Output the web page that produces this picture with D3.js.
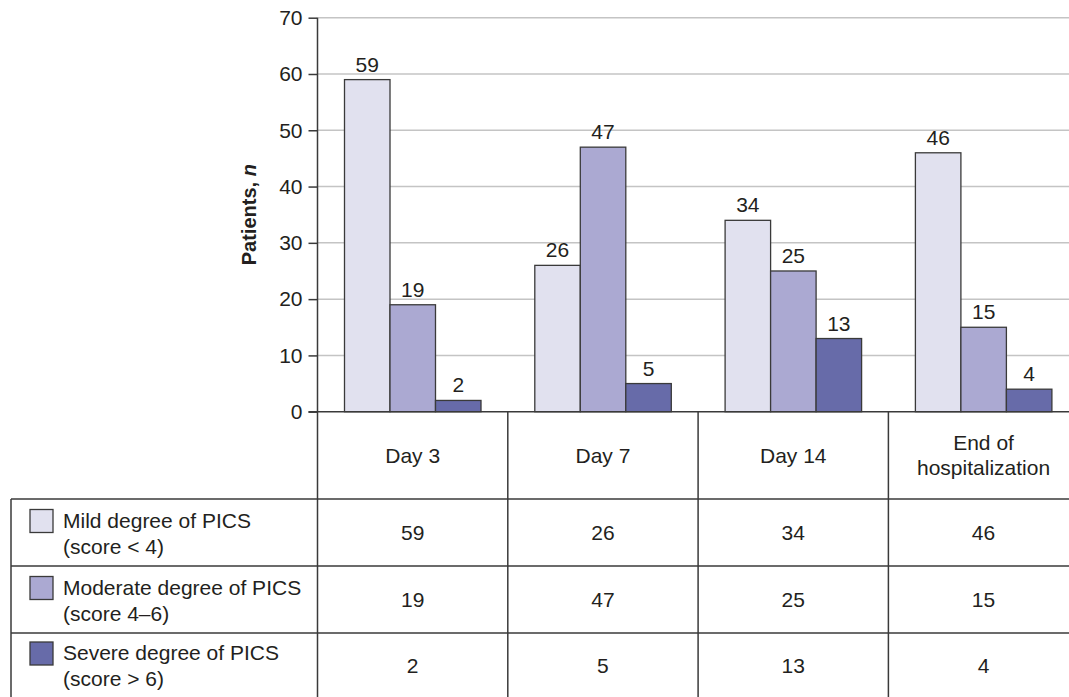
<!DOCTYPE html>
<html>
<head>
<meta charset="utf-8">
<script src="https://cdn.jsdelivr.net/npm/d3@7"></script>
<style>
  html, body { margin: 0; padding: 0; background: #fff; }
  svg { display: block; }
  text { font-family: "Liberation Sans", Arial, sans-serif; fill: #231f20; }
</style>
</head>
<body>
<svg id="chart" width="1069" height="697"></svg>
<script>
// ---- data ----
const categories = ["Day 3", "Day 7", "Day 14", "End of hospitalization"];
const categoryLines = [["Day 3"], ["Day 7"], ["Day 14"], ["End of", "hospitalization"]];
const seriesNames = ["Mild", "Moderate", "Severe"];
const seriesLabels = [
  ["Mild degree of PICS", "(score < 4)"],
  ["Moderate degree of PICS", "(score 4\u20136)"],
  ["Severe degree of PICS", "(score > 6)"]
];
const mild = [59, 26, 34, 46];
const moderate = [19, 47, 25, 15];
const severe = [2, 5, 13, 4];
const yTicks = [0, 10, 20, 30, 40, 50, 60, 70];
const colors = ["#e1e1ef", "#aba9d2", "#676ba9"];

const values = [mild, moderate, severe];

// ---- layout ----
const W = 1069, H = 697;
const axisX = 317.5;
const colStep = 190.3;
const yTop = 17.7, yBase = 411.7;
const rowTops = [499, 566, 633];
const tableLeft = 11;
const lineColor = "#3a3a3a";

const svg = d3.select("#chart");

const x0 = d3.scaleBand().domain(categories).range([axisX, axisX + colStep * 4]);
const x1 = d3.scaleBand().domain(seriesNames).range([27, 163.5]);
const y = d3.scaleLinear().domain([0, 70]).range([yBase, yTop]);

// gridlines
svg.append("g").selectAll("line").data(yTicks.filter(d => d > 0)).join("line")
  .attr("x1", axisX).attr("x2", W)
  .attr("y1", d => y(d)).attr("y2", d => y(d))
  .attr("stroke", "#c4c4c4").attr("stroke-width", 1.5);

// y axis ticks & labels
const yAxis = svg.append("g").attr("transform", `translate(${axisX},0)`)
  .call(d3.axisLeft(y).tickValues(yTicks).tickSize(9).tickPadding(6).tickSizeOuter(0));
yAxis.select(".domain").remove();
yAxis.selectAll(".tick line").attr("stroke", lineColor).attr("stroke-width", 1.5);
yAxis.selectAll(".tick text").attr("font-size", 21).attr("fill", "#231f20")
  .attr("font-family", "'Liberation Sans', Arial, sans-serif");

// y title
const title = svg.append("text")
  .attr("transform", `translate(256,${(yTop + yBase) / 2}) rotate(-90)`)
  .attr("text-anchor", "middle").attr("font-size", 20).attr("font-weight", "bold");
title.append("tspan").text("Patients, ");
title.append("tspan").attr("font-style", "italic").text("n");

// bars
const groups = svg.append("g").selectAll("g").data(categories).join("g")
  .attr("transform", d => `translate(${x0(d)},0)`);
groups.selectAll("rect").data((c, ci) => seriesNames.map((s, si) => ({ s, si, v: values[si][ci] })))
  .join("rect")
  .attr("x", d => x1(d.s)).attr("width", x1.bandwidth())
  .attr("y", d => y(d.v)).attr("height", d => yBase - y(d.v))
  .attr("fill", d => colors[d.si]).attr("stroke", "#3a3a3a").attr("stroke-width", 1.3);
groups.selectAll("text").data((c, ci) => seriesNames.map((s, si) => ({ s, si, v: values[si][ci] })))
  .join("text")
  .attr("x", d => x1(d.s) + x1.bandwidth() / 2).attr("y", d => y(d.v) - 8)
  .attr("text-anchor", "middle").attr("font-size", 21).text(d => d.v);

// table lines
const tl = svg.append("g").attr("stroke", lineColor).attr("stroke-width", 1.5);
// baseline
tl.append("line").attr("x1", axisX - 9).attr("x2", W).attr("y1", yBase).attr("y2", yBase);
// axis vertical
tl.append("line").attr("x1", axisX).attr("x2", axisX).attr("y1", yTop).attr("y2", H);
// row separators
rowTops.forEach(r => tl.append("line").attr("x1", tableLeft).attr("x2", W).attr("y1", r).attr("y2", r));
// left border
tl.append("line").attr("x1", tableLeft).attr("x2", tableLeft).attr("y1", rowTops[0]).attr("y2", H);
// column separators
categories.slice(1).forEach(c => tl.append("line").attr("x1", x0(c)).attr("x2", x0(c)).attr("y1", yBase).attr("y2", H));

// header cells
const hdr = svg.append("g");
categories.forEach((c, i) => {
  const lines = categoryLines[i];
  const cx = x0(c) + x0.bandwidth() / 2;
  const mid = (yBase + rowTops[0]) / 2;
  lines.forEach((ln, li) => {
    hdr.append("text").attr("x", cx)
      .attr("y", mid + 7.5 + (li - (lines.length - 1) / 2) * 25)
      .attr("text-anchor", "middle").attr("font-size", 21).text(ln);
  });
});

// legend rows
const rowH = [67, 67, 64];
seriesNames.forEach((s, si) => {
  const top = rowTops[si];
  const g = svg.append("g");
  const mid = top + rowH[si] / 2;
  g.append("rect").attr("x", 30).attr("y", mid - 23).attr("width", 23).attr("height", 23)
    .attr("fill", colors[si]).attr("stroke", "#3a3a3a").attr("stroke-width", 1.3);
  seriesLabels[si].forEach((ln, li) => {
    g.append("text").attr("x", 63).attr("y", mid - 5 + li * 26).attr("font-size", 21).text(ln);
  });
  categories.forEach((c, ci) => {
    g.append("text").attr("x", x0(c) + x0.bandwidth() / 2).attr("y", mid + 7.5)
      .attr("text-anchor", "middle").attr("font-size", 21).text(values[si][ci]);
  });
});
</script>
</body>
</html>
